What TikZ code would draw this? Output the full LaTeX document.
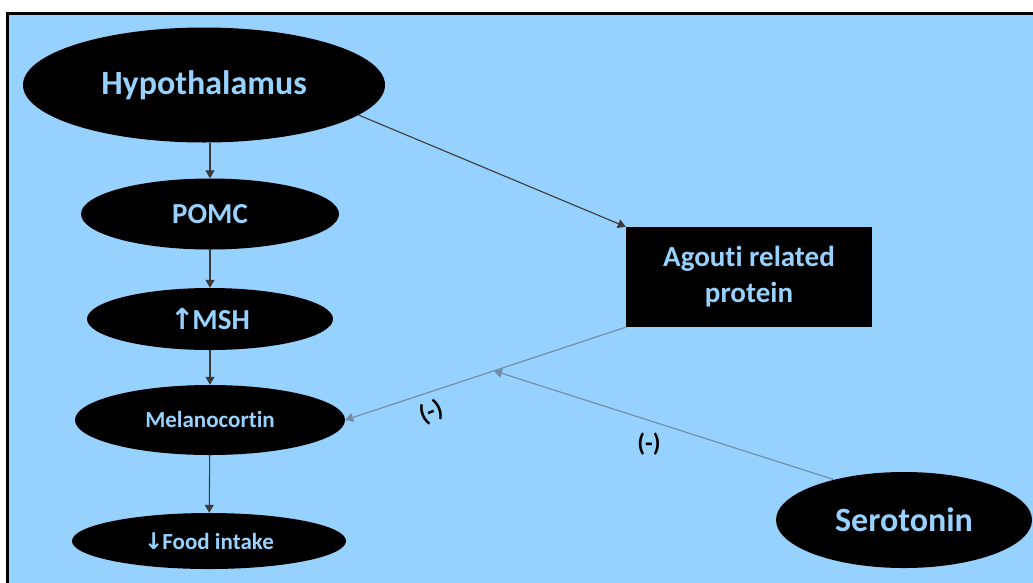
\documentclass[tikz,border=0pt]{standalone}
\usepackage{fontspec}
\setmainfont{Carlito}[Ligatures=NoCommon]
\newfontfamily\fleches{DejaVu Sans}
\usepackage{tikz}
\usetikzlibrary{shapes.geometric,arrows.meta}
\definecolor{fond}{HTML}{97D1FD}
\definecolor{trait}{HTML}{3A3A3A}
\definecolor{traitclair}{HTML}{6E8CA5}

\begin{document}
\begin{tikzpicture}[x=1pt,y=-1pt]
% Styles
\tikzstyle{fleche}=[->,>={Triangle[length=8pt,width=9pt]},draw=trait,line width=1.1pt]
\tikzstyle{flecheclaire}=[fleche,draw=traitclair]
\tikzstyle{bulle}=[ellipse,fill=black,text=fond,inner sep=0pt]
\tikzstyle{boite}=[rectangle,fill=black,text=fond,align=center,inner sep=0pt]
\tikzstyle{signe}=[text=black,font=\bfseries\fontsize{25}{25}\selectfont]
% Tailles de police
\def\Grand{\bfseries\fontsize{34}{34}\selectfont}
\def\Moyen{\bfseries\fontsize{29}{29}\selectfont}
\def\Petit{\bfseries\fontsize{23}{23}\selectfont}
% Cadre
\useasboundingbox (0,0) rectangle (1033,582);
\draw[line width=3pt,fill=fond] (7,13) rectangle (1045,595);
% Noeuds
\node[bulle,minimum width=362pt,minimum height=115pt,font=\Grand] (hyp) at (204,85) {Hypothalamus};
\node[bulle,minimum width=258pt,minimum height=71pt,font=\Moyen] (pomc) at (210,214) {POMC};
\node[bulle,minimum width=246pt,minimum height=62pt,font=\Moyen] (msh) at (210,319) {{\fleches ↑}\kern-2pt MSH};
\node[bulle,minimum width=270pt,minimum height=70pt,font=\Petit] (mel) at (210,420) {Melanocortin};
\node[bulle,minimum width=274pt,minimum height=56pt,font=\Petit] (food) at (209,541) {{\fleches ↓}\kern-1pt Food intake};
\node[boite,minimum width=246pt,minimum height=100pt,font=\Moyen] (agrp) at (749,277) {Agouti related\\[7pt]protein};
\node[bulle,minimum width=256pt,minimum height=96pt,font=\Grand] (ser) at (904,520) {Serotonin};
% Arcs
\draw[fleche] (pomc.north |- hyp.south) -- (pomc.north);
\draw[fleche] (pomc) -- (msh);
\draw[fleche] (msh) -- (mel);
\draw[fleche] (mel) -- (food);
\draw[fleche] (hyp.-11) -- (agrp.north west);
\draw[flecheclaire] (agrp.south west) -- (mel.east) coordinate[pos=0.47] (mid);
\draw[flecheclaire] (ser.150) -- (mid);
% Signes
\node[signe,rotate=22] (moinsA) at (431,412) {(-)};
\node[signe] (moinsB) at (649,444) {(-)};
\end{tikzpicture}
\end{document}
